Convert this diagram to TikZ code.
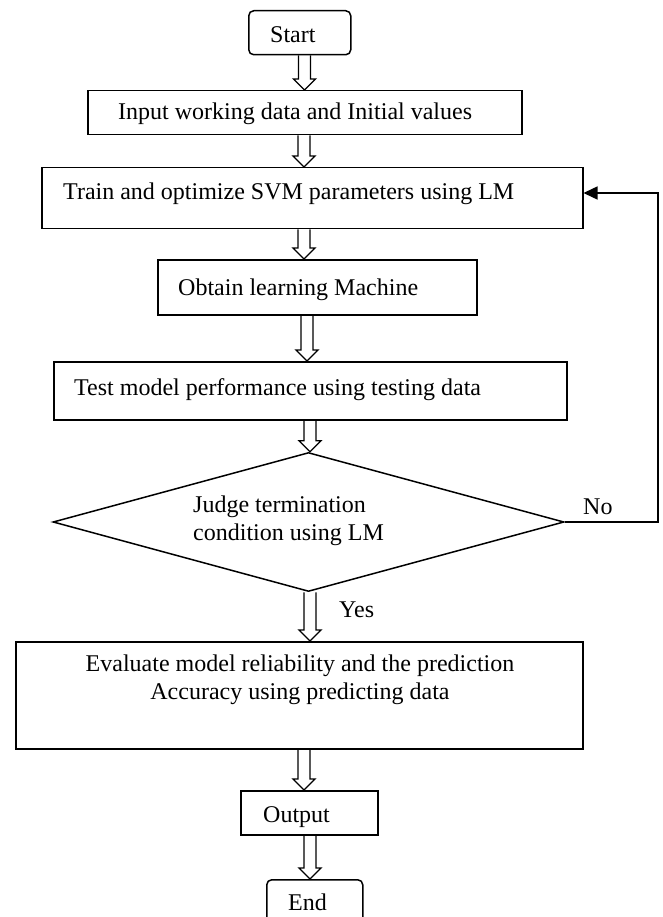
\documentclass[tikz,border=0pt]{standalone}
\usepackage{fontspec}
\setmainfont{Liberation Serif}
\usetikzlibrary{calc,shapes.geometric,arrows.meta}
\tikzset{
  box/.style={draw, line width=1.5pt, rectangle, inner sep=0pt, anchor=north west},
  term/.style={box, rounded corners=5pt},
  lbl/.style={inner sep=0pt, font=\fontsize{24}{28}\selectfont},
  blockline/.style={draw, line width=1.3pt, line join=miter},
  fbline/.style={draw, line width=1.5pt, -{Triangle[length=14pt,width=13pt]}},
}
\newcommand{\blockarrow}[2]{\draw[blockline] ($(#1)+(-6,0)$) -- ($(#2)+(-6,-11)$) -- ($(#2)+(-11,-11)$) -- (#2) -- ($(#2)+(11,-11)$) -- ($(#2)+(6,-11)$) -- ($(#1)+(6,0)$);}
\begin{document}
\begin{tikzpicture}[x=1pt,y=-1pt]
\clip (0,0) rectangle (662,917);
% boxes
\node[term, minimum width=102pt, minimum height=44pt] (start) at (248,10) {};
\node[box, minimum width=434pt, minimum height=44pt] (input) at (87,90) {};
\node[box, minimum width=541pt, minimum height=61pt] (train) at (41,167) {};
\node[box, minimum width=319pt, minimum height=55pt] (obtain) at (157,259) {};
\node[box, minimum width=513pt, minimum height=58pt] (test) at (53,361) {};
\node[draw, line width=1.5pt, diamond, inner sep=0pt, minimum width=511pt, minimum height=139pt] (judge) at (308.5,522) {};
\node[box, minimum width=567pt, minimum height=107pt] (eval) at (15,641) {};
\node[box, minimum width=137pt, minimum height=44pt] (output) at (240,790) {};
\node[term, minimum width=96pt, minimum height=56pt] (end) at (266,879) {};
% texts
\node[lbl, anchor=base west] (tstart) at (270,43) {Start};
\node[lbl, anchor=base west] (tinput) at (118,120) {Input working data and Initial values};
\node[lbl, anchor=base west] (ttrain) at (63,200) {Train and optimize SVM parameters using LM};
\node[lbl, anchor=base west] (tobtain) at (178,295) {Obtain learning Machine};
\node[lbl, anchor=base west] (ttest) at (74,395) {Test model performance using testing data};
\node[lbl, anchor=west, align=left] (tjudge) at (193,521) {Judge termination\\condition using LM};
\node[lbl, anchor=center, align=center] (teval) at (300,680) {Evaluate model reliability and the prediction\\Accuracy using predicting data};
\node[lbl, anchor=base west] (toutput) at (263,822) {Output};
\node[lbl, anchor=base west] (tend) at (288,910) {End};
\node[lbl, anchor=base west] (tno) at (583,514) {No};
\node[lbl, anchor=base west] (tyes) at (339,617) {Yes};
% block arrows
\coordinate (a1) at (304.5,0);
\coordinate (a2) at (304,0);
\coordinate (a3) at (304,0);
\coordinate (a4) at (307,0);
\coordinate (a5) at (310,0);
\coordinate (a6) at (310,0);
\coordinate (a7) at (304,0);
\coordinate (a8) at (310,0);
\blockarrow{a1 |- start.south}{a1 |- input.north}
\blockarrow{a2 |- input.south}{a2 |- train.north}
\blockarrow{a3 |- train.south}{a3 |- obtain.north}
\blockarrow{a4 |- obtain.south}{a4 |- test.north}
\blockarrow{a5 |- test.south}{a5 |- judge.north}
\blockarrow{a6 |- judge.south}{a6 |- eval.north}
\blockarrow{a7 |- eval.south}{a7 |- output.north}
\blockarrow{a8 |- output.south}{a8 |- end.north}
% feedback
\coordinate (fb) at (658,193);
\draw[fbline] (judge.east) -| (fb) -- (fb -| train.east);
\end{tikzpicture}
\end{document}
